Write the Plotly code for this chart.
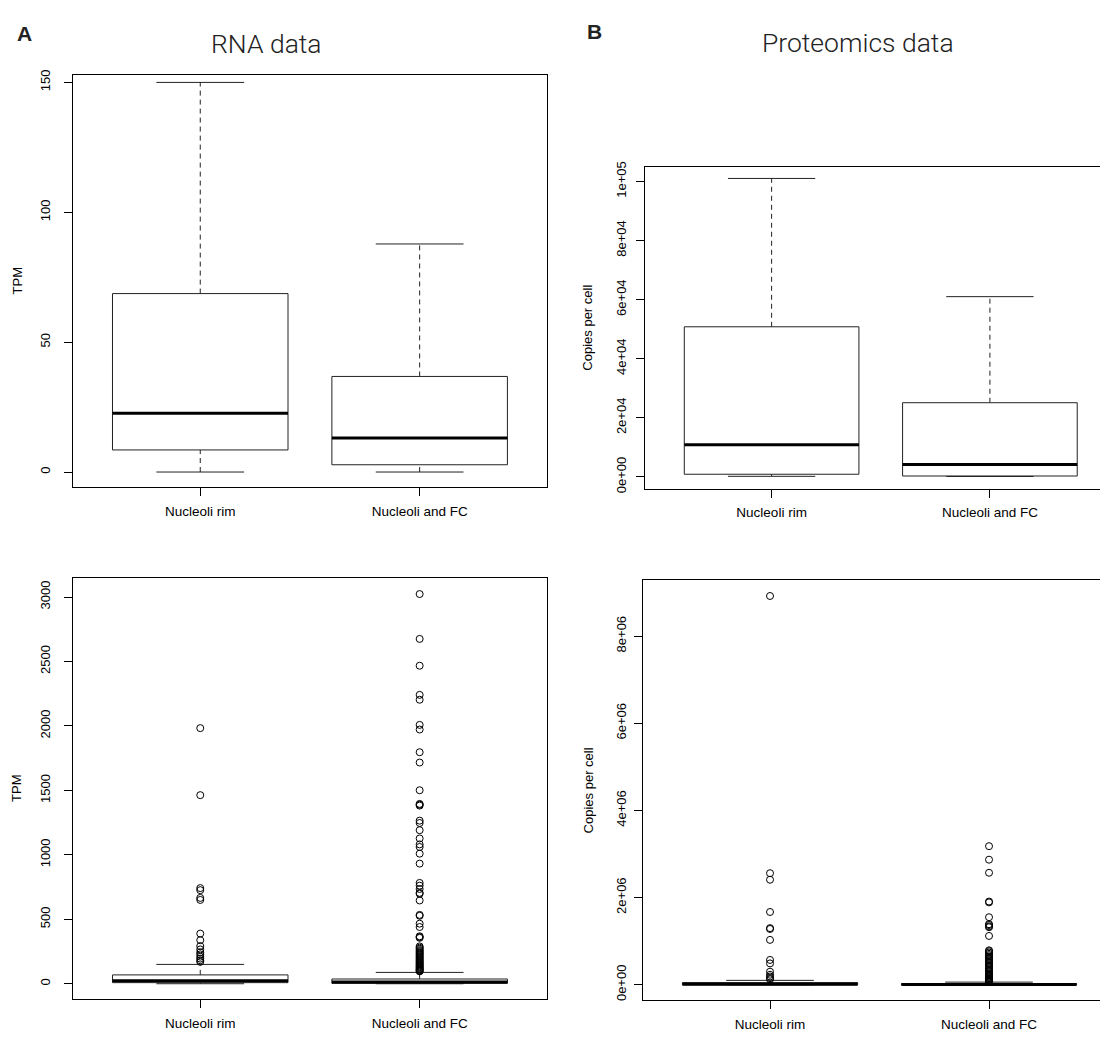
import plotly.graph_objects as go

# page body has an 8px margin, so the figure is drawn 8px smaller and all
# reference pixel positions are shifted by OFF
OFF = 8
W, H = 1108 - OFF, 1037 - OFF

# ---------------- data ----------------
categories = ["Nucleoli rim", "Nucleoli and FC"]

# box statistics: [lower whisker, Q1, median, Q3, upper whisker]
rna_rim_stats = [0, 8.5, 22.6, 68.7, 150]
rna_fc_stats = [0, 2.8, 13.1, 36.8, 87.8]
prot_rim_stats = [200, 900, 10900, 50800, 101000]
prot_fc_stats = [150, 300, 4200, 25100, 61000]

# outliers (shown in the bottom row only)
rna_rim_outliers = [1983, 1463, 742, 726, 666, 650, 389, 338, 292, 266, 244, 228, 210, 195, 182, 170]
rna_fc_outliers = [3023, 2675, 2467, 2241, 2203, 2008, 1972, 1796, 1716, 1501,
                   1395, 1389, 1382, 1265, 1247, 1191, 1127, 1081, 1061, 1009,
                   932, 782, 761, 735, 705, 698, 646, 534, 527, 466, 440,
                   368, 362, 356, 290, 280, 272, 262, 254, 246, 238, 230, 222,
                   214, 206, 198, 190, 182, 175, 168, 161, 154, 147, 140, 134,
                   128, 122, 116, 110, 105, 100, 96]
prot_rim_outliers = [8920000, 2560000, 2410000, 1670000, 1300000, 1280000, 1030000,
                     570000, 490000, 300000, 230000, 190000, 150000, 125000]
prot_fc_outliers = [3180000, 2870000, 2570000, 1910000, 1890000, 1550000, 1390000,
                    1370000, 1340000, 1320000, 1120000, 790000, 770000, 740000,
                    710000, 680000, 650000, 620000, 590000, 560000, 530000, 500000,
                    470000, 440000, 410000, 380000, 350000, 320000, 290000, 260000,
                    235000, 210000, 190000, 170000, 150000, 135000, 120000, 105000,
                    92000, 80000, 70000, 64000]

# tick labels
rna_top_ticks = [0, 50, 100, 150]
rna_top_ticktext = ["0", "50", "100", "150"]
prot_top_ticks = [0, 20000, 40000, 60000, 80000, 100000]
prot_top_ticktext = ["0e+00", "2e+04", "4e+04", "6e+04", "8e+04", "1e+05"]
rna_bot_ticks = [0, 500, 1000, 1500, 2000, 2500, 3000]
rna_bot_ticktext = ["0", "500", "1000", "1500", "2000", "2500", "3000"]
prot_bot_ticks = [0, 2000000, 4000000, 6000000, 8000000]
prot_bot_ticktext = ["0e+00", "2e+06", "4e+06", "6e+06", "8e+06"]

panel_titles = ["RNA data", "Proteomics data"]
panel_letters = ["A", "B"]
ylabels = ["TPM", "Copies per cell"]

# ---------------- layout helpers ----------------
FONT = "Liberation Sans, Arial, Helvetica, sans-serif"

def xdom(l, r):
    l, r = l - OFF, r - OFF
    return [max(l / W, 0.0), min(r / W, 1.0)]

def ydom(t, b):
    t, b = t - OFF, b - OFF
    return [(H - b) / H, (H - t) / H]

def px_x(x):
    return (x - OFF) / W

def px_y(y):
    return 1 - (y - OFF) / H

def r_range(lo, hi):
    span = hi - lo
    return [lo - 0.04 * span, hi + 0.04 * span]

fig = go.Figure()

def add_box(xa, ya, pos, stats, outliers=None):
    lo, q1, med, q3, hi = stats
    hw, cw = 0.4, 0.2
    common = dict(xaxis=xa, yaxis=ya, hoverinfo="skip", showlegend=False)
    # whiskers (dashed)
    fig.add_trace(go.Scatter(x=[pos, pos, None, pos, pos], y=[lo, q1, None, q3, hi],
                             mode="lines", line=dict(color="#222", width=1, dash="5px,4px"), **common))
    # staples
    fig.add_trace(go.Scatter(x=[pos - cw, pos + cw, None, pos - cw, pos + cw], y=[lo, lo, None, hi, hi],
                             mode="lines", line=dict(color="#222", width=1), **common))
    # box
    fig.add_trace(go.Scatter(x=[pos - hw, pos + hw, pos + hw, pos - hw, pos - hw], y=[q1, q1, q3, q3, q1],
                             mode="lines", line=dict(color="#222", width=1), **common))
    # median
    fig.add_trace(go.Scatter(x=[pos - hw, pos + hw], y=[med, med],
                             mode="lines", line=dict(color="black", width=3), **common))
    if outliers:
        fig.add_trace(go.Scatter(x=[pos] * len(outliers), y=outliers, mode="markers",
                                 marker=dict(symbol="circle-open", size=7, color="black",
                                             line=dict(width=1, color="black")), **common))

add_box("x", "y", 1, rna_rim_stats)
add_box("x", "y", 2, rna_fc_stats)
add_box("x2", "y2", 1, prot_rim_stats)
add_box("x2", "y2", 2, prot_fc_stats)
add_box("x3", "y3", 1, rna_rim_stats, rna_rim_outliers)
add_box("x3", "y3", 2, rna_fc_stats, rna_fc_outliers)
add_box("x4", "y4", 1, prot_rim_stats, prot_rim_outliers)
add_box("x4", "y4", 2, prot_fc_stats, prot_fc_outliers)

# y ranges (R style: data range extended by 4%)
yr_tl = [-5.9, 152.7]
yr_tr = r_range(0, max(prot_rim_stats + prot_fc_stats))
yr_bl = r_range(0, max(rna_rim_outliers + rna_fc_outliers))
yr_br = r_range(0, max(prot_rim_outliers + prot_fc_outliers))

def xaxis_cfg(l, r, anchor, px_per_unit):
    rng_hi = 0.42 + (min(r, 1108) - l) / px_per_unit
    return dict(domain=xdom(l, r), anchor=anchor, range=[0.42, rng_hi],
                tickmode="array", tickvals=[1, 2], ticktext=categories,
                ticks="outside", ticklen=8, tickwidth=1, tickcolor="black",
                showline=True, mirror=True, linecolor="black", linewidth=1,
                showgrid=False, zeroline=False, fixedrange=True,
                tickfont=dict(family=FONT, size=13.5, color="black"),
                ticklabelstandoff=3)

def yaxis_cfg(t, b, anchor, rng, tv, tt, mirror, standoff):
    return dict(domain=ydom(t, b), anchor=anchor, range=rng,
                tickmode="array", tickvals=tv, ticktext=tt, tickangle=-90,
                ticks="outside", ticklen=8, tickwidth=1, tickcolor="black",
                showline=True, mirror=mirror, linecolor="black", linewidth=1,
                showgrid=False, zeroline=False, fixedrange=True,
                tickfont=dict(family=FONT, size=13, color="black"),
                ticklabelstandoff=standoff)

fig.update_layout(
    width=W, height=H, margin=dict(l=0, r=0, t=0, b=0),
    paper_bgcolor="white", plot_bgcolor="white", showlegend=False,
    xaxis=xaxis_cfg(73, 547, "y", 219.4),
    yaxis=yaxis_cfg(70, 486, "x", yr_tl, rna_top_ticks, rna_top_ticktext, True, 9),
    xaxis2=xaxis_cfg(645, 1117, "y2", 218.3),
    yaxis2=yaxis_cfg(162, 487.5, "x2", yr_tr, prot_top_ticks, prot_top_ticktext, False, 5),
    xaxis3=xaxis_cfg(73, 547, "y3", 219.4),
    yaxis3=yaxis_cfg(578, 1003, "x3", yr_bl, rna_bot_ticks, rna_bot_ticktext, True, 9),
    xaxis4=xaxis_cfg(643, 1117, "y4", 219.0),
    yaxis4=yaxis_cfg(580, 1004, "x4", yr_br, prot_bot_ticks, prot_bot_ticktext, False, 3),
)

ann = []
center = dict(xanchor="center", yanchor="middle", showarrow=False, xref="paper")
# panel letters
ann.append(dict(text="<b>%s</b>" % panel_letters[0], x=px_x(24), y=px_y(28), yref="paper",
                font=dict(family=FONT, size=21, color="#222"), **center))
ann.append(dict(text="<b>%s</b>" % panel_letters[1], x=px_x(594), y=px_y(26), yref="paper",
                font=dict(family=FONT, size=21, color="#222"), **center))
# panel titles
ann.append(dict(text=panel_titles[0], x=px_x(266), y=px_y(38), yref="paper",
                font=dict(family="Roboto, " + FONT, size=26.5, color="#222", weight=300), **center))
ann.append(dict(text=panel_titles[1], x=px_x(858), y=px_y(37), yref="paper",
                font=dict(family="Roboto, " + FONT, size=26.5, color="#222", weight=300), **center))
# y axis titles
for yref, xpx, lab in [("y domain", 17, ylabels[0]), ("y2 domain", 588, ylabels[1]),
                       ("y3 domain", 17, ylabels[0]), ("y4 domain", 588, ylabels[1])]:
    ann.append(dict(text=lab, x=px_x(xpx), y=0.5, yref=yref, textangle=-90,
                    font=dict(family=FONT, size=13, color="black"), **center))
fig.update_layout(annotations=ann)

fig.write_html("out.html")
